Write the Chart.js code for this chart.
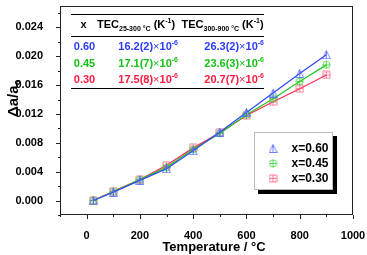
<!DOCTYPE html>
<html>
<head>
<meta charset="utf-8">
<script src="https://cdn.jsdelivr.net/npm/chart.js@4"></script>
<style>
  html, body { margin: 0; padding: 0; background: #fff; }
  #wrap { width: 367px; height: 255px; position: relative; }
</style>
</head>
<body>
<div id="wrap"><canvas id="tecChart" width="367" height="255"></canvas></div>
<script>
// data
const temps = [25, 100, 200, 300, 400, 500, 600, 700, 800, 900];
const x060 = [0, 0.00115, 0.0028, 0.0044, 0.0069, 0.0095, 0.0122, 0.0149, 0.0176, 0.0202];
const x045 = [0, 0.0012, 0.0029, 0.0046, 0.0071, 0.0093, 0.0119, 0.0141, 0.0165, 0.0188];
const x030 = [0, 0.0013, 0.0029, 0.0049, 0.0073, 0.0094, 0.0118, 0.0137, 0.0155, 0.0174];

const seriesNames = ['x=0.60', 'x=0.45', 'x=0.30'];
const xTicks = [0, 200, 400, 600, 800, 1000];
const yTicks = [0, 0.004, 0.008, 0.012, 0.016, 0.020, 0.024];

// table in the upper left
const tableX = ['0.60', '0.45', '0.30'];
const tecLow = ['16.2(2)', '17.1(7)', '17.5(8)'];
const tecHigh = ['26.3(2)', '23.6(3)', '20.7(7)'];

const lineCols = ['#2f45ff', '#1fc81f', '#ff2a55'];
const markCols = ['rgba(80,100,255,0.8)', 'rgba(60,210,60,0.8)', 'rgba(255,90,125,0.8)'];
const textCols = ['#2b3cff', '#16c016', '#ff1a40'];

const FONT = '"Liberation Sans", Arial, sans-serif';

// marker images (triangle with bar, circle with plus, square with plus)
function makeMarker(kind, col) {
    const c = document.createElement('canvas');
    c.width = 9; c.height = 9;
    const g = c.getContext('2d');
    g.strokeStyle = col;
    g.lineWidth = 1;
    g.beginPath();
    if (kind === 'tri') {
        g.moveTo(4.5, 0.5); g.lineTo(0.5, 8.5); g.lineTo(8.5, 8.5); g.closePath();
        g.moveTo(4.5, 0.5); g.lineTo(4.5, 8.5);
    } else if (kind === 'circ') {
        g.arc(4.5, 4.5, 3.6, 0, Math.PI * 2);
        g.moveTo(0.9, 4.5); g.lineTo(8.1, 4.5);
        g.moveTo(4.5, 0.9); g.lineTo(4.5, 8.1);
    } else {
        g.rect(1, 1, 7, 7);
        g.moveTo(1, 4.5); g.lineTo(8, 4.5);
        g.moveTo(4.5, 1); g.lineTo(4.5, 8);
    }
    g.stroke();
    return c;
}
const markers = [makeMarker('tri', markCols[0]), makeMarker('circ', markCols[1]), makeMarker('sq', markCols[2])];

function pts(ys) {
    return temps.map((t, i) => ({ x: t, y: ys[i] }));
}

// draw a string made of runs (sub/superscripts)
function drawRuns(ctx, runs, x, y, align) {
    let w = 0;
    runs.forEach(r => { ctx.font = r.f; w += ctx.measureText(r.t).width; });
    let cx = align === 'right' ? x - w : (align === 'center' ? x - w / 2 : x);
    ctx.textAlign = 'left';
    ctx.textBaseline = 'alphabetic';
    runs.forEach(r => {
        ctx.font = r.f;
        ctx.fillText(r.t, cx, y + (r.dy || 0));
        cx += ctx.measureText(r.t).width;
    });
}

const B11 = 'bold 11px ' + FONT;
const B7 = 'bold 7px ' + FONT;

const decorPlugin = {
    id: 'decor',
    afterDraw(chart) {
        const ctx = chart.ctx;
        const a = chart.chartArea;
        const xs = chart.scales.x, ys = chart.scales.y;
        ctx.save();

        // frame
        ctx.strokeStyle = '#222';
        ctx.lineWidth = 1;
        ctx.strokeRect(Math.round(a.left) + 0.5, Math.round(a.top) + 0.5,
            Math.round(a.right - a.left) - 1, Math.round(a.bottom - a.top) - 1);

        // tick marks, major and minor, outward
        ctx.beginPath();
        for (let v = -100; v <= 1000; v += 100) {
            const px = Math.round(xs.getPixelForValue(v)) + 0.5;
            const len = (v % 200 === 0) ? 4 : 2;
            ctx.moveTo(px, a.bottom); ctx.lineTo(px, a.bottom + len);
        }
        for (let k = -1; k <= 13; k++) {
            const v = k * 0.002;
            const py = Math.round(ys.getPixelForValue(v)) + 0.5;
            const len = (k % 2 === 0) ? 4 : 2;
            ctx.moveTo(a.left, py); ctx.lineTo(a.left - len, py);
        }
        ctx.stroke();

        // axis titles
        ctx.fillStyle = '#000';
        ctx.font = 'bold 13px ' + FONT;
        ctx.textAlign = 'center';
        ctx.textBaseline = 'alphabetic';
        ctx.fillText('Temperature / °C', 214, 250.5);

        ctx.save();
        ctx.translate(17.5, 117);
        ctx.rotate(-Math.PI / 2);
        drawRuns(ctx, [
            { t: 'Δa/a', f: 'bold 15px ' + FONT },
            { t: 'o', f: 'bold 9px ' + FONT, dy: 2 }
        ], 0, 0, 'left');
        ctx.restore();

        // table
        ctx.strokeStyle = '#000';
        ctx.lineWidth = 1.2;
        ctx.beginPath();
        [14.5, 36.5, 88.5].forEach(yy => { ctx.moveTo(71, yy); ctx.lineTo(264, yy); });
        ctx.stroke();

        ctx.fillStyle = '#000';
        drawRuns(ctx, [{ t: 'x', f: B11 }], 83.5, 27.5, 'center');
        drawRuns(ctx, [
            { t: 'TEC', f: B11 }, { t: '25-300 °C', f: B7, dy: 3 },
            { t: ' (K', f: B11 }, { t: '-1', f: B7, dy: -5 }, { t: ')', f: B11 }
        ], 97, 27.5, 'left');
        drawRuns(ctx, [
            { t: 'TEC', f: B11 }, { t: '300-900 °C', f: B7, dy: 3 },
            { t: ' (K', f: B11 }, { t: '-1', f: B7, dy: -5 }, { t: ')', f: B11 }
        ], 181.5, 27.5, 'left');

        const rowY = [50, 66.5, 83];
        for (let i = 0; i < 3; i++) {
            ctx.fillStyle = textCols[i];
            drawRuns(ctx, [{ t: tableX[i], f: B11 }], 84.5, rowY[i], 'center');
            [[tecLow[i], 178], [tecHigh[i], 264]].forEach(([val, rx]) => {
                drawRuns(ctx, [
                    { t: val, f: B11 }, { t: '×', f: '11px ' + FONT },
                    { t: '10', f: B11 }, { t: '-6', f: B7, dy: -5 }
                ], rx, rowY[i], 'right');
            });
        }

        // legend box with shadow
        ctx.fillStyle = '#000';
        ctx.fillRect(258, 136, 79, 58);
        ctx.fillStyle = '#fff';
        ctx.fillRect(254, 132, 79, 58);
        ctx.strokeStyle = '#bbb';
        ctx.lineWidth = 1;
        ctx.strokeRect(254.5, 132.5, 78, 57);
        const legY = [148.5, 163.5, 178.5];
        for (let i = 0; i < 3; i++) {
            ctx.drawImage(markers[i], 273 - 4.5, legY[i] - 4.5);
            ctx.fillStyle = '#000';
            ctx.font = 'bold 12px ' + FONT;
            ctx.textAlign = 'left';
            ctx.textBaseline = 'middle';
            ctx.fillText(seriesNames[i], 291.5, legY[i] + 0.5);
        }

        ctx.restore();
    }
};

document.addEventListener("DOMContentLoaded", function () {
    const canvas = document.getElementById("tecChart");
    const ctx = canvas.getContext("2d");
    const allSeries = [x060, x045, x030];

    new Chart(ctx, {
        type: 'scatter',
        data: {
            datasets: allSeries.map((ys, i) => ({
                label: seriesNames[i],
                data: pts(ys),
                showLine: true,
                borderColor: lineCols[i],
                borderWidth: 1.2,
                pointStyle: markers[i],
                pointRadius: 4.5,
                pointHoverRadius: 4.5
            }))
        },
        options: {
            responsive: false,
            animation: false,
            events: [],
            layout: { padding: { top: 2, right: 14, left: 0, bottom: 0 } },
            plugins: {
                legend: { display: false },
                tooltip: { enabled: false }
            },
            scales: {
                x: {
                    type: 'linear',
                    min: -100,
                    max: 1000,
                    afterBuildTicks: s => { s.ticks = xTicks.map(v => ({ value: v })); },
                    afterFit: s => { s.height = 40; s.paddingLeft = 0; s.paddingRight = 0; },
                    grid: { display: false },
                    border: { display: false },
                    ticks: {
                        padding: 6,
                        maxRotation: 0,
                        color: '#000',
                        font: { family: FONT, size: 11, weight: 'bold' },
                        callback: v => String(v)
                    }
                },
                y: {
                    type: 'linear',
                    min: -0.002,
                    max: 0.027,
                    afterBuildTicks: s => { s.ticks = yTicks.map(v => ({ value: v })); },
                    afterFit: s => { s.width = 60; s.paddingTop = 0; s.paddingBottom = 0; },
                    grid: { display: false },
                    border: { display: false },
                    ticks: {
                        padding: 9,
                        color: '#000',
                        font: { family: FONT, size: 11, weight: 'bold' },
                        callback: v => Number(v).toFixed(3)
                    }
                }
            }
        },
        plugins: [decorPlugin]
    });
});
</script>
</body>
</html>
